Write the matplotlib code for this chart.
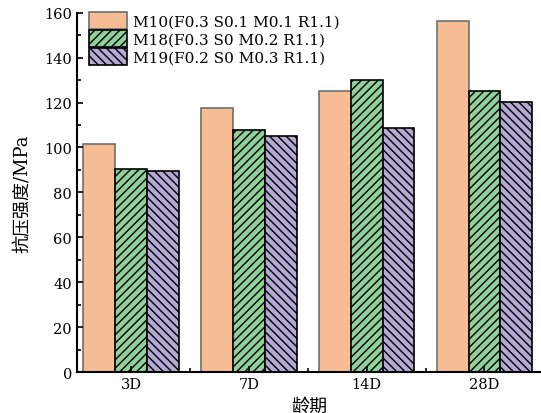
import numpy as np
import matplotlib.pyplot as plt
from matplotlib.ticker import MultipleLocator

plt.rcParams['font.family'] = ['DejaVu Serif', 'Noto Sans CJK SC']
plt.rcParams['hatch.linewidth'] = 1.0

ages = ['3D', '7D', '14D', '28D']
labels = ['M10(F0.3 S0.1 M0.1 R1.1)', 'M18(F0.3 S0 M0.2 R1.1)', 'M19(F0.2 S0 M0.3 R1.1)']
m10 = [101.6, 117.6, 125.0, 156.3]
m18 = [90.5, 107.6, 130.0, 125.0]
m19 = [89.5, 105.2, 108.6, 120.2]

colors = ['#F6BC93', '#90D09B', '#B3A9D3']
edges = ['#6e6e6e', 'black', 'black']
hatches = ['', '////', '\\\\\\\\']

fig = plt.figure(figsize=(5.41, 4.14), dpi=100)
ax = fig.add_axes([0.142, 0.099, 0.858, 0.868])

x = np.arange(len(ages))
w = 0.27
for i, (vals, c, e, h, lab) in enumerate(zip([m10, m18, m19], colors, edges, hatches, labels)):
    ax.bar(x + (i - 1) * w, vals, w, color=c, hatch=h, edgecolor=e,
           linewidth=1.2, label=lab)

ax.set_xlim(-0.46, 3.48)
ax.set_ylim(0, 160)
ax.set_xticks(x)
ax.set_xticklabels(ages)
ax.xaxis.set_minor_locator(MultipleLocator(1, offset=0.5))
ax.yaxis.set_major_locator(MultipleLocator(20))
ax.yaxis.set_minor_locator(MultipleLocator(10))
ax.tick_params(which='both', direction='in', labelsize=10.5, width=1.2)
ax.tick_params(which='major', length=4)
ax.tick_params(which='minor', length=3)
ax.spines['top'].set_visible(False)
ax.spines['right'].set_visible(False)
ax.spines['left'].set_linewidth(1.5)
ax.spines['bottom'].set_linewidth(1.5)

ax.set_ylabel('抗压强度/MPa', fontsize=13, labelpad=9)
ax.set_xlabel('龄期', fontsize=13, labelpad=4)

ax.legend(loc='upper left', bbox_to_anchor=(0.02, 1.01), frameon=False,
          fontsize=11, handlelength=2.5, handleheight=1.3,
          handletextpad=0.35, labelspacing=0.1, borderaxespad=0.0,
          borderpad=0.2)

fig.savefig('out.png', dpi=100)
